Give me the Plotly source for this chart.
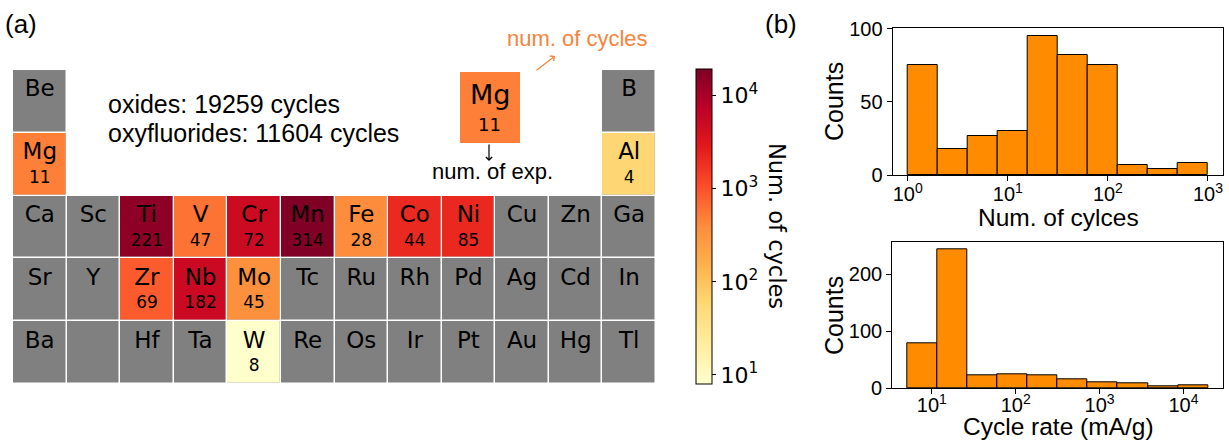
import numpy as np
import plotly.graph_objects as go
from plotly.colors import sample_colorscale

W, H = 1229, 442


def px(x):
    return x / W


def py(y):
    return 1 - y / H


# ---- periodic-table block (groups 2..13, periods 2..6) ----
# None = empty slot, "" = grey cell without a symbol
table_rows = [
    ["Be", None, None, None, None, None, None, None, None, None, None, "B"],
    ["Mg", None, None, None, None, None, None, None, None, None, None, "Al"],
    ["Ca", "Sc", "Ti", "V", "Cr", "Mn", "Fe", "Co", "Ni", "Cu", "Zn", "Ga"],
    ["Sr", "Y", "Zr", "Nb", "Mo", "Tc", "Ru", "Rh", "Pd", "Ag", "Cd", "In"],
    ["Ba", "", "Hf", "Ta", "W", "Re", "Os", "Ir", "Pt", "Au", "Hg", "Tl"],
]

studied_elements = ["Mg", "Al", "Ti", "V", "Cr", "Mn", "Fe", "Co", "Ni", "Zr", "Nb", "Mo", "W"]
num_experiments = [11, 4, 221, 47, 72, 314, 28, 44, 85, 69, 182, 45, 8]
num_cycles = [488, 60, 15500, 590, 4900, 19259, 390, 2080, 2100, 855, 5100, 365, 8]

cycles_min, cycles_max = 8, 19259
cbar_tickvals = [1, 2, 3, 4]
cbar_ticktext = ["10<sup>1</sup>", "10<sup>2</sup>", "10<sup>3</sup>", "10<sup>4</sup>"]

# ---- histograms ----
cycle_bin_edges_log = [0.0, 0.3, 0.6, 0.9, 1.2, 1.5, 1.8, 2.1, 2.4, 2.7, 3.0]
cycle_counts = [75, 18, 27, 30, 95, 82, 75, 7, 4, 8]

rate_log_min, rate_log_max = 0.707, 4.292
rate_counts = [79, 243, 23, 24, 22, 16, 11, 9, 3, 6]

log_ticks_cycles = [0, 1, 2, 3]
log_ticks_rate = [1, 2, 3, 4]

ylorrd = ["#ffffcc", "#ffeda0", "#fed976", "#feb24c", "#fd8d3c",
          "#fc4e2a", "#e31a1c", "#bd0026", "#800026"]
colorscale = [[i / 8, c] for i, c in enumerate(ylorrd)]
lo, hi = np.log10(cycles_min), np.log10(cycles_max)

n_rows, n_cols = len(table_rows), len(table_rows[0])
grey_z = [[1 if table_rows[r][c] is not None else None for c in range(n_cols)] for r in range(n_rows)]
color_z = [[None] * n_cols for _ in range(n_rows)]
cycles_of = dict(zip(studied_elements, num_cycles))
exps_of = dict(zip(studied_elements, num_experiments))
for r in range(n_rows):
    for c in range(n_cols):
        s = table_rows[r][c]
        if s in cycles_of:
            color_z[r][c] = float(np.log10(cycles_of[s]))

fig = go.Figure()

fig.add_trace(go.Heatmap(
    z=grey_z, x=list(range(n_cols)), y=list(range(n_rows)),
    colorscale=[[0, "#808080"], [1, "#808080"]], showscale=False,
    xgap=1.5, ygap=1.5, hoverinfo="skip", xaxis="x", yaxis="y",
))
fig.add_trace(go.Heatmap(
    z=color_z, x=list(range(n_cols)), y=list(range(n_rows)),
    colorscale=colorscale, zmin=lo, zmax=hi,
    xgap=1.5, ygap=1.5, xaxis="x", yaxis="y",
    colorbar=dict(
        x=px(696), xanchor="left", xpad=0, ypad=0,
        y=py((69 + 384) / 2), yanchor="middle",
        len=315 / H, lenmode="fraction",
        thickness=16, thicknessmode="pixels",
        outlinewidth=1, outlinecolor="black", borderwidth=0,
        tickmode="array", tickvals=cbar_tickvals, ticktext=cbar_ticktext,
        ticks="outside", ticklen=4, tickwidth=1, tickcolor="black",
        tickfont=dict(family="DejaVu Sans", size=22, color="black"),
    ),
))

# element symbols and experiment counts
sym_x, sym_y, sym_t = [], [], []
num_x, num_y, num_t = [], [], []
for r in range(n_rows):
    for c in range(n_cols):
        s = table_rows[r][c]
        if s:
            sym_x.append(c); sym_y.append(r - 0.17); sym_t.append(s)
            if s in exps_of:
                num_x.append(c); num_y.append(r + 0.23); num_t.append(str(exps_of[s]))

fig.add_trace(go.Scatter(x=sym_x, y=sym_y, text=sym_t, mode="text",
                         textfont=dict(family="DejaVu Sans", size=23, color="black"),
                         hoverinfo="skip", showlegend=False, xaxis="x", yaxis="y"))
fig.add_trace(go.Scatter(x=num_x, y=num_y, text=num_t, mode="text",
                         textfont=dict(family="DejaVu Sans", size=17, color="black"),
                         hoverinfo="skip", showlegend=False, xaxis="x", yaxis="y"))

# histogram of cycle numbers
ce = np.array(cycle_bin_edges_log)
fig.add_trace(go.Bar(
    x=(ce[:-1] + ce[1:]) / 2, y=cycle_counts, width=np.diff(ce),
    marker=dict(color="#ff8c00", line=dict(color="black", width=1)),
    showlegend=False, xaxis="x2", yaxis="y2",
))

# histogram of cycle rates
re_ = np.linspace(rate_log_min, rate_log_max, len(rate_counts) + 1)
fig.add_trace(go.Bar(
    x=(re_[:-1] + re_[1:]) / 2, y=rate_counts, width=np.diff(re_),
    marker=dict(color="#ff8c00", line=dict(color="black", width=1)),
    showlegend=False, xaxis="x3", yaxis="y3",
))

hist_tickfont = dict(family="Liberation Sans", size=20, color="black")
frame = dict(showline=True, linecolor="black", linewidth=1.3, mirror=True,
             ticks="outside", ticklen=5, tickwidth=1.2, tickcolor="black",
             showgrid=False, zeroline=False, tickfont=hist_tickfont)

fig.update_layout(
    width=W, height=H, margin=dict(l=0, r=0, t=0, b=0, autoexpand=False),
    paper_bgcolor="white", plot_bgcolor="white", bargap=0,
    showlegend=False,
    xaxis=dict(domain=[px(13), px(656)], range=[-0.5, n_cols - 0.5],
               visible=False, fixedrange=True),
    yaxis=dict(domain=[py(384), py(70)], range=[n_rows - 0.5, -0.5],
               visible=False, fixedrange=True),
    xaxis2=dict(domain=[px(892.7), px(1223)], range=[-0.15, 3.15], anchor="y2",
                tickmode="array", tickvals=log_ticks_cycles,
                ticktext=[f"10<sup>{v}</sup>" for v in log_ticks_cycles],
                ticklabelstandoff=-4, **frame),
    yaxis2=dict(domain=[py(175), py(28)], range=[0, 100.5], anchor="x2",
                tickmode="array", tickvals=[0, 50, 100], **frame),
    xaxis3=dict(domain=[px(892.3), px(1223)], range=[0.528, 4.471], anchor="y3",
                tickmode="array", tickvals=log_ticks_rate,
                ticktext=[f"10<sup>{v}</sup>" for v in log_ticks_rate],
                ticklabelstandoff=-6, **frame),
    yaxis3=dict(domain=[py(388.3), py(242.3)], range=[0, 255.5], anchor="x3",
                tickmode="array", tickvals=[0, 100, 200], **frame),
)

# legend cell illustrating the labels
mg_color = sample_colorscale(colorscale, [(np.log10(cycles_of["Mg"]) - lo) / (hi - lo)])[0]
fig.add_shape(type="rect", xref="paper", yref="paper",
              x0=px(460), x1=px(520), y0=py(143), y1=py(72),
              fillcolor=mg_color, line=dict(width=0), layer="below")

ann = []


def text(x, y, s, size, family="Liberation Sans", color="black", xanchor="center",
         yanchor="middle", angle=0):
    ann.append(dict(x=px(x), y=py(y), xref="paper", yref="paper", text=s, showarrow=False,
                    xanchor=xanchor, yanchor=yanchor, textangle=angle,
                    font=dict(family=family, size=size, color=color)))


text(21, 24, "(a)", 26)
text(781, 24, "(b)", 26)
text(106, 104, "oxides: 19259 cycles", 25, xanchor="left")
text(106, 133, "oxyfluorides: 11604 cycles", 25, xanchor="left")
text(489.5, 94, "Mg", 27, family="DejaVu Sans")
text(489.5, 124, str(exps_of["Mg"]), 18, family="DejaVu Sans")
text(492, 172, "num. of exp.", 22)
text(577, 38, "num. of cycles", 22, color="#f5843c")
text(777, 226, "Num. of cycles", 22.5, family="DejaVu Sans", angle=90)
text(834, 102, "Counts", 25, angle=-90)
text(1058, 217, "Num. of cylces", 24.5)
text(834, 316, "Counts", 25, angle=-90)
text(1058, 442, "Cycle rate (mA/g)", 24.5, yanchor="bottom")

# arrows from the legend cell
ann.append(dict(x=px(489), y=py(161), xref="paper", yref="paper", ax=0, ay=-18,
                text="", showarrow=True, arrowhead=4, arrowsize=1, arrowwidth=1.2,
                arrowcolor="black"))
ann.append(dict(x=px(555), y=py(56), xref="paper", yref="paper", ax=-20, ay=15.5,
                text="", showarrow=True, arrowhead=4, arrowsize=1, arrowwidth=1.2,
                arrowcolor="#f5843c"))

fig.update_layout(annotations=ann)

fig.write_html("out.html")
